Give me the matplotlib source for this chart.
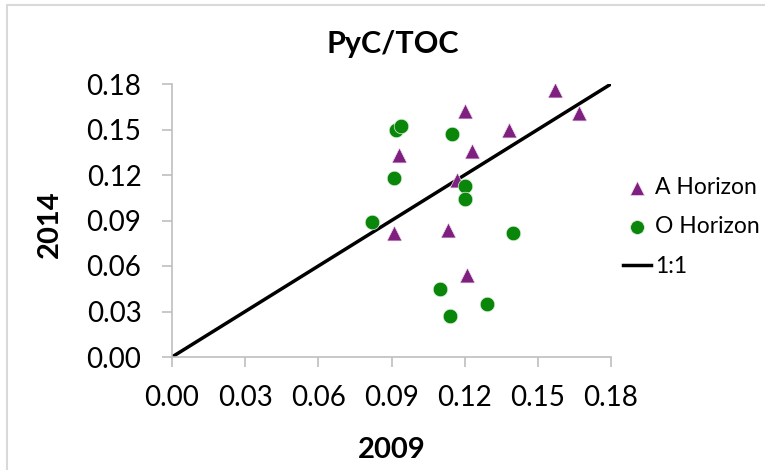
import matplotlib.pyplot as plt
from matplotlib.patches import Rectangle

plt.rcParams['font.family'] = ['Lato', 'DejaVu Sans']

# A Horizon (triangles)
a_2009 = [0.157, 0.167, 0.120, 0.138, 0.123, 0.093, 0.117, 0.091, 0.113, 0.121]
a_2014 = [0.176, 0.161, 0.162, 0.150, 0.136, 0.133, 0.117, 0.082, 0.084, 0.054]

# O Horizon (circles)
o_2009 = [0.092, 0.094, 0.115, 0.091, 0.120, 0.120, 0.082, 0.140, 0.110, 0.129, 0.114]
o_2014 = [0.150, 0.152, 0.147, 0.118, 0.113, 0.104, 0.089, 0.082, 0.045, 0.035, 0.027]

ticks = [0.00, 0.03, 0.06, 0.09, 0.12, 0.15, 0.18]

W, H = 765, 470
fig = plt.figure(figsize=(W / 100, H / 100), dpi=100)
ax = fig.add_axes([172 / W, 1 - 357 / H, 439 / W, 273 / H])

# light frame around the chart
fig.patches.append(Rectangle((7 / W, -0.05), 1.1, (465 + 0.05 * H) / H,
                             transform=fig.transFigure, fill=False,
                             edgecolor='#d9d9d9', linewidth=1.5))

ax.scatter(a_2009, a_2014, marker='^', s=115, color='#7f1f7f',
           edgecolors='#f0e0f0', linewidths=0.5, label='A Horizon', zorder=3)
ax.scatter(o_2009, o_2014, marker='o', s=110, color='#0a870a',
           edgecolors='#e0f0e0', linewidths=0.5, label='O Horizon', zorder=3)
ax.plot([0, 0.18], [0, 0.18], color='black', linewidth=2.5, label='1:1', zorder=2)

ax.set_xlim(0, 0.18)
ax.set_ylim(0, 0.18)
ax.set_xticks(ticks)
ax.set_yticks(ticks)
ax.set_xticklabels([f'{t:.2f}' for t in ticks])
ax.set_yticklabels([f'{t:.2f}' for t in ticks])
ax.tick_params(axis='both', labelsize=20, color='#bfbfbf', length=7, width=1.2,
               labelcolor='black')
ax.tick_params(axis='x', pad=13)
ax.tick_params(axis='y', pad=15)
for side in ['top', 'right']:
    ax.spines[side].set_visible(False)
for side in ['left', 'bottom']:
    ax.spines[side].set_color('#bfbfbf')
    ax.spines[side].set_linewidth(1.2)

fig.text(393 / W, 1 - 53 / H, 'PyC/TOC', fontsize=22, fontweight='bold',
         ha='center', va='baseline')
fig.text(392 / W, 1 - 458 / H, '2009', fontsize=21, fontweight='bold',
         ha='center', va='baseline')
fig.text(50 / W, 1 - 224 / H, '2014', fontsize=21, fontweight='bold',
         ha='center', va='center', rotation=90)

ax.legend(loc='center left', bbox_to_anchor=(623 / W, 1 - 227 / H),
          bbox_transform=fig.transFigure, frameon=False, fontsize=16.5,
          handlelength=1.2, handletextpad=0.2, labelspacing=0.8,
          borderpad=0, borderaxespad=0, markerscale=0.95)

fig.savefig('out.png', dpi=100)
